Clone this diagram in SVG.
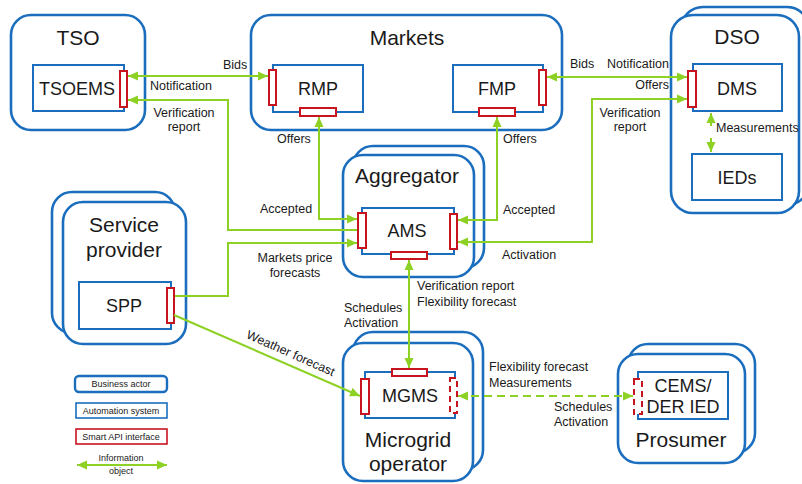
<svg xmlns="http://www.w3.org/2000/svg" width="802" height="484" viewBox="0 0 802 484">
<defs>
<marker id="ah" viewBox="0 0 10 10" refX="10" refY="5" markerWidth="10" markerHeight="10" markerUnits="userSpaceOnUse" orient="auto-start-reverse">
<path d="M0,0.5 L10,5 L0,9.5 z" fill="#8DD124"/>
</marker>
</defs>
<style>
.actor{fill:#fff;stroke:#1B6EBE;stroke-width:2.6}
.sys{fill:#fff;stroke:#1B6EBE;stroke-width:2}
.api{fill:#fff;stroke:#C8141E;stroke-width:2}
.apid{fill:#fff;stroke:#C8141E;stroke-width:2;stroke-dasharray:6 4}
.c{fill:none;stroke:#8DD124;stroke-width:2}
.cd{fill:none;stroke:#8DD124;stroke-width:2.2;stroke-dasharray:8 5}
text{font-family:"Liberation Sans",Arial,sans-serif;fill:#1a1a1a}
.t{font-size:21px;text-anchor:middle}
.s{font-size:18px;text-anchor:middle}
.l{font-size:12.5px}
.lm{font-size:12.5px;text-anchor:middle}
.lg{font-size:9px;text-anchor:middle}
</style>

<g id="tso">
<rect class="actor" x="11" y="15" width="134" height="115" rx="20"/>
<text class="t" x="78" y="45">TSO</text>
</g>
<g id="tsoems">
<rect class="sys" x="33" y="65" width="91" height="46"/>
<text class="s" x="77" y="95">TSOEMS</text>
<rect class="api" x="120" y="71" width="7" height="36"/>
</g>

<g id="markets">
<rect class="actor" x="251" y="15" width="311" height="115" rx="20"/>
<text class="t" x="407" y="45">Markets</text>
</g>
<g id="rmp">
<rect class="sys" x="273" y="65" width="90" height="47"/>
<text class="s" x="318" y="95">RMP</text>
<rect class="api" x="269" y="70" width="7" height="35"/>
<rect class="api" x="300" y="108" width="36" height="8"/>
</g>
<g id="fmp">
<rect class="sys" x="453" y="65" width="90" height="47"/>
<text class="s" x="497" y="95">FMP</text>
<rect class="api" x="539" y="70" width="7" height="35"/>
<rect class="api" x="479" y="108" width="36" height="8"/>
</g>

<g id="dso">
<rect class="actor" x="681" y="7" width="128" height="198" rx="22"/>
<rect class="actor" x="671" y="15" width="128" height="198" rx="22"/>
<text class="t" x="737" y="44">DSO</text>
</g>
<g id="dms">
<rect class="sys" x="693" y="64" width="89" height="47"/>
<text class="s" x="737" y="95">DMS</text>
<rect class="api" x="688" y="71" width="8" height="36"/>
</g>
<g id="ieds">
<rect class="sys" x="692" y="154" width="90" height="46"/>
<text class="s" x="737" y="184">IEDs</text>
</g>

<g id="aggregator">
<rect class="actor" x="353" y="146" width="131" height="122" rx="20"/>
<rect class="actor" x="343" y="155" width="131" height="122" rx="20"/>
<text class="t" x="407" y="183">Aggregator</text>
</g>
<g id="ams">
<rect class="sys" x="362" y="208" width="92" height="46"/>
<text class="s" x="407" y="237">AMS</text>
<rect class="api" x="358" y="213" width="8" height="35"/>
<rect class="api" x="450" y="214" width="7" height="35"/>
<rect class="api" x="391" y="252" width="36" height="7"/>
</g>

<g id="service-provider">
<rect class="actor" x="52" y="192" width="123" height="141" rx="20"/>
<rect class="actor" x="63" y="202" width="123" height="142" rx="20"/>
<text class="t" x="124" y="232">Service</text>
<text class="t" x="124" y="257">provider</text>
</g>
<g id="spp">
<rect class="sys" x="79" y="282" width="92" height="47"/>
<text class="s" x="124" y="312">SPP</text>
<rect class="api" x="167" y="288" width="7" height="35"/>
</g>

<g id="microgrid-operator">
<rect class="actor" x="353" y="332" width="130" height="138" rx="20"/>
<rect class="actor" x="343" y="343" width="130" height="138" rx="20"/>
<text class="t" x="408" y="447">Microgrid</text>
<text class="t" x="408" y="471">operator</text>
</g>
<g id="mgms">
<rect class="sys" x="365" y="372" width="90" height="46"/>
<text class="s" x="410" y="402">MGMS</text>
<rect class="api" x="392" y="369" width="35" height="7"/>
<rect class="api" x="361" y="379" width="8" height="35"/>
<rect class="apid" x="450" y="378" width="7" height="35"/>
</g>

<g id="prosumer">
<rect class="actor" x="628" y="344" width="127" height="109" rx="20"/>
<rect class="actor" x="618" y="354" width="127" height="109" rx="20"/>
<text class="t" x="681" y="447">Prosumer</text>
</g>
<g id="cems">
<rect class="sys" x="638" y="372" width="90" height="47"/>
<text class="s" x="683" y="392">CEMS/</text>
<text class="s" x="683" y="413">DER IED</text>
<rect class="apid" x="634" y="379" width="8" height="35"/>
</g>

<g id="connectors">
<path class="c" d="M128,76 H268" marker-start="url(#ah)" marker-end="url(#ah)"/>
<path class="c" d="M357,230 H228 V100 H128" marker-end="url(#ah)"/>
<path class="c" d="M319,117 V219 H357" marker-start="url(#ah)" marker-end="url(#ah)"/>
<path class="c" d="M175,296 H228 V243 H357" marker-end="url(#ah)"/>
<path class="c" d="M547,77 H687" marker-start="url(#ah)" marker-end="url(#ah)"/>
<path class="c" d="M497,117 V220 H458" marker-start="url(#ah)" marker-end="url(#ah)"/>
<path class="c" d="M687,99 H592 V242 H458" marker-start="url(#ah)" marker-end="url(#ah)"/>
<path class="c" d="M409,260 V368" marker-start="url(#ah)" marker-end="url(#ah)"/>
<path class="c" d="M174,315 L360,396" marker-end="url(#ah)"/>
<path class="cd" d="M458,396 H633" marker-start="url(#ah)" marker-end="url(#ah)"/>
<path class="c" d="M711,113 V152" stroke-dasharray="13 12 14" marker-start="url(#ah)" marker-end="url(#ah)"/>
</g>

<g id="labels">
<text class="l" x="223" y="69">Bids</text>
<text class="l" x="150" y="90">Notification</text>
<text class="lm" x="184" y="117">Verification</text>
<text class="lm" x="184" y="131">report</text>
<text class="l" x="277" y="143">Offers</text>
<text class="l" x="503" y="143">Offers</text>
<text class="l" x="570" y="68">Bids</text>
<text class="l" x="607" y="68">Notification</text>
<text class="l" x="669" y="89" text-anchor="end">Offers</text>
<text class="lm" x="630" y="117">Verification</text>
<text class="lm" x="630" y="131">report</text>
<text class="l" x="716" y="132">Measurements</text>
<text class="l" x="260" y="213">Accepted</text>
<text class="l" x="503" y="214">Accepted</text>
<text class="lm" x="295" y="262">Markets price</text>
<text class="lm" x="295" y="277">forecasts</text>
<text class="l" x="502" y="259">Activation</text>
<text class="l" x="417" y="290">Verification report</text>
<text class="l" x="417" y="306">Flexibility forecast</text>
<text class="l" x="344" y="312">Schedules</text>
<text class="l" x="344" y="327">Activation</text>
<text class="l" x="489" y="371">Flexibility forecast</text>
<text class="l" x="489" y="387">Measurements</text>
<text class="l" x="554" y="411">Schedules</text>
<text class="l" x="554" y="426">Activation</text>
<text class="lm" x="289" y="357" transform="rotate(24 289 357)">Weather forecast</text>
</g>

<g id="legend">
<rect class="actor" x="75" y="376" width="92" height="16" rx="4" style="stroke-width:2.4"/>
<text class="lg" x="121" y="387">Business actor</text>
<rect class="sys" x="76" y="403" width="91" height="15" style="stroke-width:1.6"/>
<text class="lg" x="121" y="414">Automation system</text>
<rect class="api" x="76" y="429" width="91" height="15" style="stroke-width:1.6"/>
<text class="lg" x="121" y="440">Smart API interface</text>
<path class="c" d="M77,465 H167" marker-start="url(#ah)" marker-end="url(#ah)"/>
<text class="lg" x="121" y="461">Information</text>
<text class="lg" x="121" y="474">object</text>
</g>
</svg>
